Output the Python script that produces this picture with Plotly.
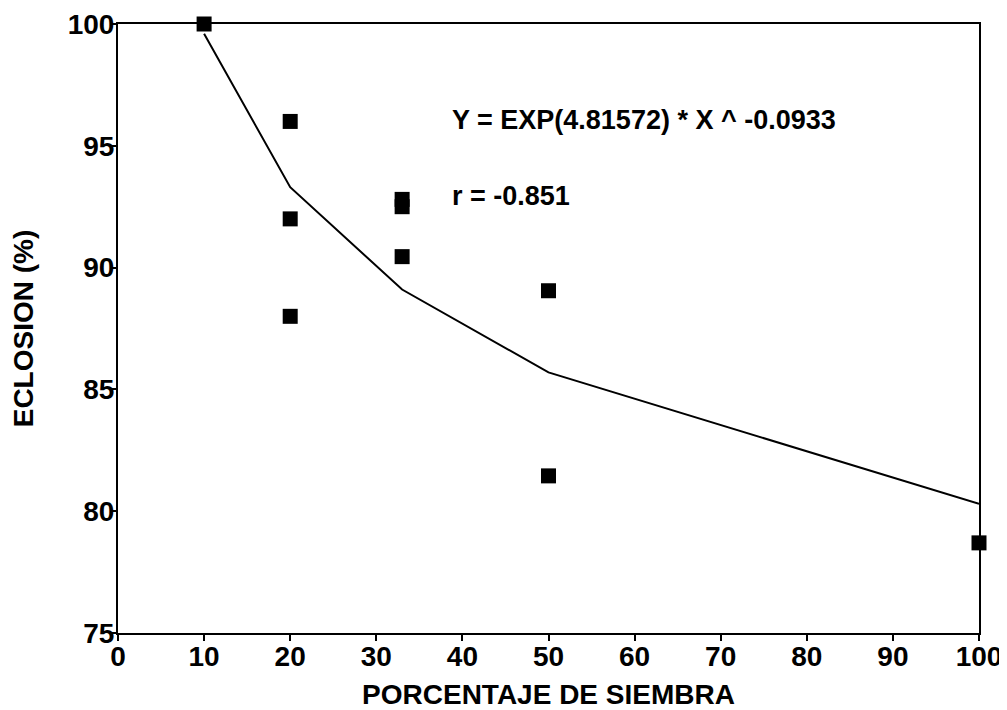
import plotly.graph_objects as go

# Observed data points
siembra = [10, 20, 20, 20, 33, 33, 33, 50, 50, 100]
eclosion = [100.0, 96.0, 92.0, 88.0, 92.8, 92.5, 90.45, 89.05, 81.45, 78.7]

# Fitted curve (at the data x positions)
fit_x = [10, 20, 33, 50, 100]
fit_y = [99.6, 93.3, 89.1, 85.7, 80.3]

x_ticks = [0, 10, 20, 30, 40, 50, 60, 70, 80, 90, 100]
y_ticks = [75, 80, 85, 90, 95, 100]

equation_text = "Y = EXP(4.81572) * X ^ -0.0933"
r_text = "r = -0.851"

FONT = "Liberation Sans, Arial, sans-serif"

fig = go.Figure()
fig.add_trace(go.Scatter(
    x=fit_x, y=fit_y, mode="lines",
    line=dict(color="black", width=2),
    cliponaxis=False, showlegend=False,
))
fig.add_trace(go.Scatter(
    x=siembra, y=eclosion, mode="markers",
    marker=dict(symbol="square", size=15, color="black"),
    cliponaxis=False, showlegend=False,
))

fig.add_annotation(x=38.6, y=96.05, xref="x", yref="y", text=equation_text,
                   showarrow=False, xanchor="left", yanchor="middle",
                   font=dict(family=FONT, size=27, color="black", weight="bold"))
fig.add_annotation(x=38.6, y=92.95, xref="x", yref="y", text=r_text,
                   showarrow=False, xanchor="left", yanchor="middle",
                   font=dict(family=FONT, size=27, color="black", weight="bold"))

fig.update_xaxes(
    range=[0, 100], tickvals=x_ticks, ticktext=[str(v) for v in x_ticks],
    showgrid=False, zeroline=False, automargin=False,
    showline=True, linecolor="black", linewidth=2, mirror=True,
    ticks="outside", ticklen=6, tickwidth=2, tickcolor="black",
    ticklabelstandoff=-9,
    tickfont=dict(family=FONT, size=28, color="black", weight="bold"),
    title=dict(text="PORCENTAJE DE SIEMBRA", standoff=14,
               font=dict(family=FONT, size=28, color="black", weight="bold")),
)
fig.update_yaxes(
    range=[75, 100], tickvals=y_ticks, ticktext=[str(v) for v in y_ticks],
    showgrid=False, zeroline=False, automargin=False,
    showline=True, linecolor="black", linewidth=2, mirror=True,
    ticks="outside", ticklen=6, tickwidth=2, tickcolor="black",
    ticklabelstandoff=-10,
    tickfont=dict(family=FONT, size=28, color="black", weight="bold"),
    title=dict(text="ECLOSION (%)", standoff=36,
               font=dict(family=FONT, size=28, color="black", weight="bold")),
)

# The page body adds an 8px offset, so the figure is sized to fit the window.
fig.update_layout(
    width=999, height=702,
    margin=dict(l=110, r=28, t=16, b=77, pad=0),
    paper_bgcolor="white", plot_bgcolor="white",
)

fig.write_html("out.html")
